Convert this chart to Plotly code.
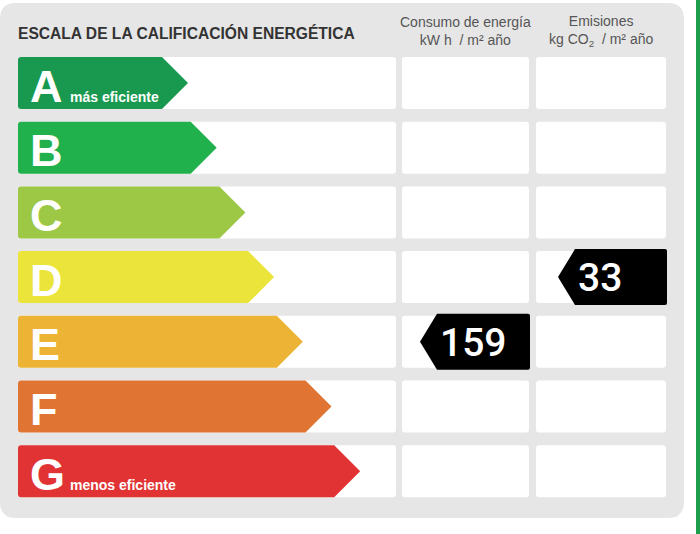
import plotly.graph_objects as go

# datos de la etiqueta
grades = ["A", "B", "C", "D", "E", "F", "G"]
grade_notes = {"A": "más eficiente", "G": "menos eficiente"}
consumo_grade = "E"
consumo_value = 159
emisiones_grade = "D"
emisiones_value = 33

title = "ESCALA DE LA CALIFICACIÓN ENERGÉTICA"
col_headers = ["Consumo de energía<br>kW h  / m² año",
               "Emisiones<br>kg CO<sub>2</sub>  / m² año"]

colors = ["#18994f", "#21b14c", "#9cc845", "#ebe43a", "#ecb334", "#e07533", "#e13333"]

# geometría (px)
row_top0, row_step, row_h = 57, 64.7, 52
cells = [(18, 396), (402, 529), (536, 666)]
tip0, tip_step, tip_len = 188, 28.7, 26


def rounded_rect(x0, y0, x1, y1, r):
    return (f"M{x0+r},{y0} L{x1-r},{y0} Q{x1},{y0} {x1},{y0+r} "
            f"L{x1},{y1-r} Q{x1},{y1} {x1-r},{y1} L{x0+r},{y1} "
            f"Q{x0},{y1} {x0},{y1-r} L{x0},{y0+r} Q{x0},{y0} {x0+r},{y0} Z")


shapes = []
annotations = []

# fondo gris y línea verde
shapes.append(dict(type="path", path=rounded_rect(0, 3, 684, 518, 16),
                   fillcolor="#e6e6e6", line_width=0, layer="below"))
shapes.append(dict(type="rect", x0=696, x1=700, y0=0, y1=534,
                   fillcolor="#1d9e4c", line_width=0, layer="below"))

for i, g in enumerate(grades):
    y0 = row_top0 + i * row_step
    y1 = y0 + row_h
    ym = (y0 + y1) / 2
    for cx0, cx1 in cells:
        shapes.append(dict(type="path", path=rounded_rect(cx0, y0, cx1, y1, 3),
                           fillcolor="white", line_width=0, layer="below"))
    tip = tip0 + i * tip_step
    body = tip - tip_len
    x0 = 18
    r = 3
    path = (f"M{x0+r},{y0} L{body},{y0} L{tip},{ym} L{body},{y1} L{x0+r},{y1} "
            f"Q{x0},{y1} {x0},{y1-r} L{x0},{y0+r} Q{x0},{y0} {x0+r},{y0} Z")
    shapes.append(dict(type="path", path=path, fillcolor=colors[i], line_width=0))
    annotations.append(dict(x=28, y=ym + 3, text=f"<b>{g}</b>", showarrow=False,
                            xanchor="left", yanchor="middle",
                            font=dict(family="Liberation Sans", size=45, color="white")))
    if g in grade_notes:
        annotations.append(dict(x=68, y=y1 - 12, text=f"<b>{grade_notes[g]}</b>",
                                showarrow=False, xanchor="left", yanchor="middle",
                                font=dict(family="Liberation Sans", size=14, color="white")))


def value_tag(col, grade, value):
    i = grades.index(grade)
    cx0, cx1 = cells[col]
    y0 = row_top0 + i * row_step - 2
    y1 = y0 + row_h + 4
    ym = (y0 + y1) / 2
    right = cx1 + 1
    left_tip = right - 109 if col == 2 else right - 110
    notch = left_tip + 17
    r = 2
    path = (f"M{notch},{y0} L{right-r},{y0} Q{right},{y0} {right},{y0+r} "
            f"L{right},{y1-r} Q{right},{y1} {right-r},{y1} L{notch},{y1} "
            f"L{left_tip},{ym} Z")
    shapes.append(dict(type="path", path=path, fillcolor="black", line_width=0))
    annotations.append(dict(x=notch + 1, y=ym + 1, text=str(value),
                            showarrow=False, xanchor="left", yanchor="middle",
                            font=dict(family="Roboto", size=39, weight=500,
                                      color="white")))


value_tag(1, consumo_grade, consumo_value)
value_tag(2, emisiones_grade, emisiones_value)

annotations.append(dict(x=16, y=33, text=f"<b>{title}</b>", showarrow=False,
                        xanchor="left", yanchor="middle",
                        font=dict(family="Liberation Sans", size=15.6, color="#333333")))
for (cx0, cx1), h in zip(cells[1:], col_headers):
    annotations.append(dict(x=(cx0 + cx1) / 2, y=31, text=h, showarrow=False,
                            xanchor="center", yanchor="middle",
                            font=dict(family="Liberation Sans", size=14, color="#555555")))

fig = go.Figure()
fig.update_layout(
    width=700, height=534,
    margin=dict(l=0, r=0, t=0, b=0),
    paper_bgcolor="white", plot_bgcolor="white",
    xaxis=dict(range=[0, 700], visible=False, fixedrange=True),
    yaxis=dict(range=[534, 0], visible=False, fixedrange=True),
    shapes=shapes, annotations=annotations, showlegend=False,
)
fig.write_html("out.html", config={"displayModeBar": False},
               post_script="document.body.style.margin='0px';")
